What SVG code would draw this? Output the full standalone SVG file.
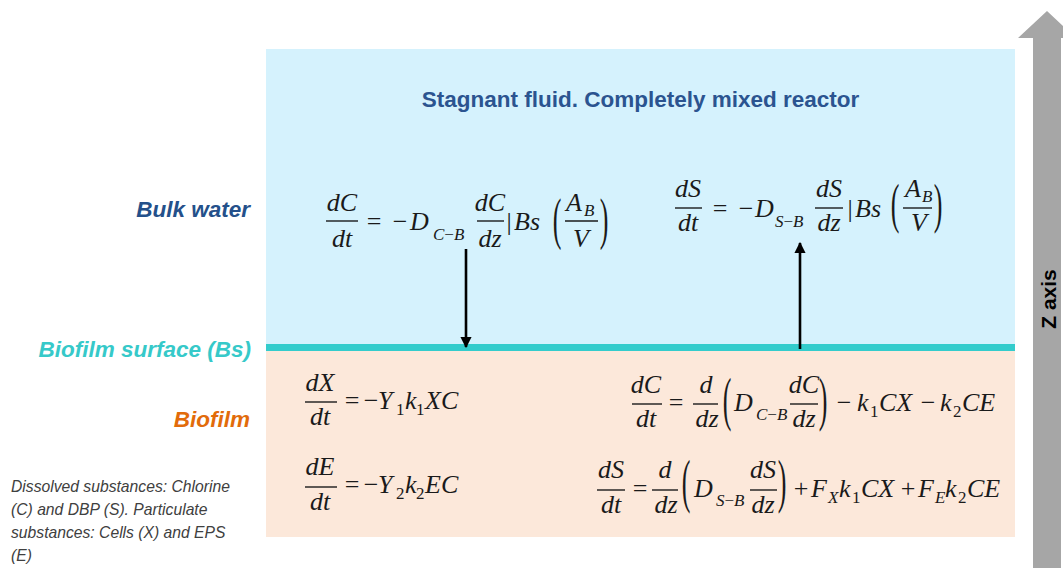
<svg xmlns="http://www.w3.org/2000/svg" width="1063" height="568" viewBox="0 0 1063 568">
<style>
.lab{font-family:"Liberation Sans",Arial,sans-serif;font-weight:bold;font-style:italic;font-size:22.5px}
.m{font-family:"Liberation Serif","Times New Roman",serif;font-style:italic;font-size:26px;fill:#1a1a1a}
.u{font-style:normal}
.s{font-size:17px}
.bar{stroke:#1a1a1a;stroke-width:1.4}
.conn{stroke:#000;stroke-width:2.6;fill:none}
</style>
<defs>
<marker id="ah" viewBox="0 0 10 10" refX="9" refY="5" markerWidth="4.4" markerHeight="4.4" orient="auto" markerUnits="strokeWidth">
<path d="M0,0 L10,5 L0,10 z" fill="#000"/>
</marker>
</defs>
<rect width="1063" height="568" fill="#fff"/>

<g id="z-axis">
<polygon points="1047,11 1076,38 1061,38 1061,568 1033,568 1033,38 1018,38" fill="#a6a6a6"/>
<text transform="translate(1056,299) rotate(-90)" text-anchor="middle" font-family="Liberation Sans,Arial,sans-serif" font-weight="bold" font-size="21" fill="#000">Z axis</text>
</g>

<g id="bulk-water">
<rect x="266" y="49" width="749" height="296" fill="#d5f2fd"/>
<text x="640.5" y="107" text-anchor="middle" class="lab" style="font-style:normal" fill="#2b5490">Stagnant fluid. Completely mixed reactor</text>
<text x="250" y="217" text-anchor="end" class="lab" fill="#24508a">Bulk water</text>
</g>

<g id="biofilm">
<rect x="266" y="351" width="749" height="186" fill="#fce8da"/>
<text x="250" y="427" text-anchor="end" class="lab" fill="#e26b0a">Biofilm</text>
</g>

<g id="biofilm-surface">
<rect x="266" y="344" width="749" height="7" fill="#33cccc"/>
<text x="251" y="357" text-anchor="end" class="lab" fill="#36c9c9">Biofilm surface (Bs)</text>
</g>

<g id="note">
<text font-family="Liberation Sans,Arial,sans-serif" font-style="italic" font-size="15.7" fill="#404040">
<tspan x="11" y="492">Dissolved substances: Chlorine</tspan>
<tspan x="11" y="515">(C) and DBP (S). Particulate</tspan>
<tspan x="11" y="538">substances: Cells (X) and EPS</tspan>
<tspan x="11" y="561">(E)</tspan>
</text>
</g>

<g id="eq-bulk-C">
<text class="m" x="342" y="211" text-anchor="middle">dC</text>
<line class="bar" x1="326" y1="221" x2="358" y2="221"/>
<text class="m" x="342" y="247" text-anchor="middle">dt</text>
<text class="m u" x="374" y="230" text-anchor="middle">=</text>
<text class="m u" x="400" y="230" text-anchor="middle">−</text>
<text class="m" x="410" y="230">D</text>
<text class="m s" x="433" y="240">C<tspan class="u">−</tspan>B</text>
<text class="m" x="490" y="211" text-anchor="middle">dC</text>
<line class="bar" x1="477" y1="221" x2="504" y2="221"/>
<text class="m" x="490" y="247" text-anchor="middle">dz</text>
<text class="m u" x="509" y="230" text-anchor="middle">|</text>
<text class="m" x="514" y="230">Bs</text>
<text class="m u" transform="translate(557,237.6) scale(1,2.2)" text-anchor="middle" font-size="26">(</text>
<text class="m" x="566" y="211">A</text>
<text class="m s" x="584" y="216">B</text>
<line class="bar" x1="565" y1="221" x2="598" y2="221"/>
<text class="m" x="581" y="247" text-anchor="middle">V</text>
<text class="m u" transform="translate(604,237.6) scale(1,2.2)" text-anchor="middle" font-size="26">)</text>
</g>

<g id="eq-bulk-S">
<text class="m" x="688" y="197" text-anchor="middle">dS</text>
<line class="bar" x1="675" y1="208" x2="702" y2="208"/>
<text class="m" x="688" y="231" text-anchor="middle">dt</text>
<text class="m u" x="720" y="217" text-anchor="middle">=</text>
<text class="m u" x="746" y="217" text-anchor="middle">−</text>
<text class="m" x="755" y="217">D</text>
<text class="m s" x="775" y="227">S<tspan class="u">−</tspan>B</text>
<text class="m" x="829" y="197" text-anchor="middle">dS</text>
<line class="bar" x1="815" y1="208" x2="843" y2="208"/>
<text class="m" x="829" y="231" text-anchor="middle">dz</text>
<text class="m u" x="850" y="217" text-anchor="middle">|</text>
<text class="m" x="855" y="217">Bs</text>
<text class="m u" transform="translate(895,221.9) scale(1,2.15)" text-anchor="middle" font-size="26">(</text>
<text class="m" x="905" y="197">A</text>
<text class="m s" x="922" y="202">B</text>
<line class="bar" x1="903" y1="208" x2="932" y2="208"/>
<text class="m" x="919" y="231" text-anchor="middle">V</text>
<text class="m u" transform="translate(938,221.9) scale(1,2.15)" text-anchor="middle" font-size="26">)</text>
</g>

<g id="eq-biofilm-X">
<text class="m" x="320" y="391" text-anchor="middle">dX</text>
<line class="bar" x1="305" y1="402" x2="337" y2="402"/>
<text class="m" x="320" y="425" text-anchor="middle">dt</text>
<text class="m u" x="352" y="409" text-anchor="middle">=</text>
<text class="m u" x="371" y="409" text-anchor="middle">−</text>
<text class="m" x="378" y="409">Y</text>
<text class="m s u" x="396" y="415">1</text>
<text class="m" x="405" y="409">k</text>
<text class="m s u" x="416" y="415">1</text>
<text class="m" x="425" y="409">XC</text>
</g>

<g id="eq-biofilm-E">
<text class="m" x="320" y="475" text-anchor="middle">dE</text>
<line class="bar" x1="305" y1="487" x2="337" y2="487"/>
<text class="m" x="320" y="510" text-anchor="middle">dt</text>
<text class="m u" x="352" y="493" text-anchor="middle">=</text>
<text class="m u" x="371" y="493" text-anchor="middle">−</text>
<text class="m" x="378" y="493">Y</text>
<text class="m s u" x="396" y="499">2</text>
<text class="m" x="405" y="493">k</text>
<text class="m s u" x="416" y="499">2</text>
<text class="m" x="425" y="493">EC</text>
</g>

<g id="eq-biofilm-C">
<text class="m" x="646" y="393" text-anchor="middle">dC</text>
<line class="bar" x1="632" y1="404" x2="662" y2="404"/>
<text class="m" x="646" y="427" text-anchor="middle">dt</text>
<text class="m u" x="676" y="411" text-anchor="middle">=</text>
<text class="m" x="706" y="393" text-anchor="middle">d</text>
<line class="bar" x1="693" y1="404" x2="718" y2="404"/>
<text class="m" x="707" y="427" text-anchor="middle">dz</text>
<text class="m u" transform="translate(727,419.2) scale(1,2.3)" text-anchor="middle" font-size="26">(</text>
<text class="m" x="734" y="411">D</text>
<text class="m s" x="756" y="420">C<tspan class="u">−</tspan>B</text>
<text class="m" x="804" y="393" text-anchor="middle">dC</text>
<line class="bar" x1="790" y1="404" x2="818" y2="404"/>
<text class="m" x="804" y="427" text-anchor="middle">dz</text>
<text class="m u" transform="translate(823,419.2) scale(1,2.3)" text-anchor="middle" font-size="26">)</text>
<text class="m u" x="844" y="411" text-anchor="middle">−</text>
<text class="m" x="857" y="411">k</text>
<text class="m s u" x="870" y="417">1</text>
<text class="m" x="879" y="411">CX</text>
<text class="m u" x="928" y="411" text-anchor="middle">−</text>
<text class="m" x="940" y="411">k</text>
<text class="m s u" x="953" y="417">2</text>
<text class="m" x="962" y="411">CE</text>
</g>

<g id="eq-biofilm-S">
<text class="m" x="611" y="478" text-anchor="middle">dS</text>
<line class="bar" x1="597" y1="490" x2="625" y2="490"/>
<text class="m" x="611" y="513" text-anchor="middle">dt</text>
<text class="m u" x="640" y="497" text-anchor="middle">=</text>
<text class="m" x="665" y="478" text-anchor="middle">d</text>
<line class="bar" x1="652" y1="490" x2="678" y2="490"/>
<text class="m" x="666" y="513" text-anchor="middle">dz</text>
<text class="m u" transform="translate(686,501.2) scale(1,2.3)" text-anchor="middle" font-size="26">(</text>
<text class="m" x="694" y="497">D</text>
<text class="m s" x="716" y="506">S<tspan class="u">−</tspan>B</text>
<text class="m" x="763" y="478" text-anchor="middle">dS</text>
<line class="bar" x1="750" y1="490" x2="777" y2="490"/>
<text class="m" x="763" y="513" text-anchor="middle">dz</text>
<text class="m u" transform="translate(782,501.2) scale(1,2.3)" text-anchor="middle" font-size="26">)</text>
<text class="m u" x="801" y="497" text-anchor="middle">+</text>
<text class="m" x="811" y="497">F</text>
<text class="m s" x="828" y="503">X</text>
<text class="m" x="839" y="497">k</text>
<text class="m s u" x="852" y="503">1</text>
<text class="m" x="861" y="497">CX</text>
<text class="m u" x="908" y="497" text-anchor="middle">+</text>
<text class="m" x="918" y="497">F</text>
<text class="m s" x="935" y="503">E</text>
<text class="m" x="945" y="497">k</text>
<text class="m s u" x="958" y="503">2</text>
<text class="m" x="967" y="497">CE</text>
</g>

<g id="connectors">
<line class="conn" x1="466" y1="249" x2="466" y2="347" marker-end="url(#ah)"/>
<line class="conn" x1="800" y1="349" x2="800" y2="243" marker-end="url(#ah)"/>
</g>
</svg>
